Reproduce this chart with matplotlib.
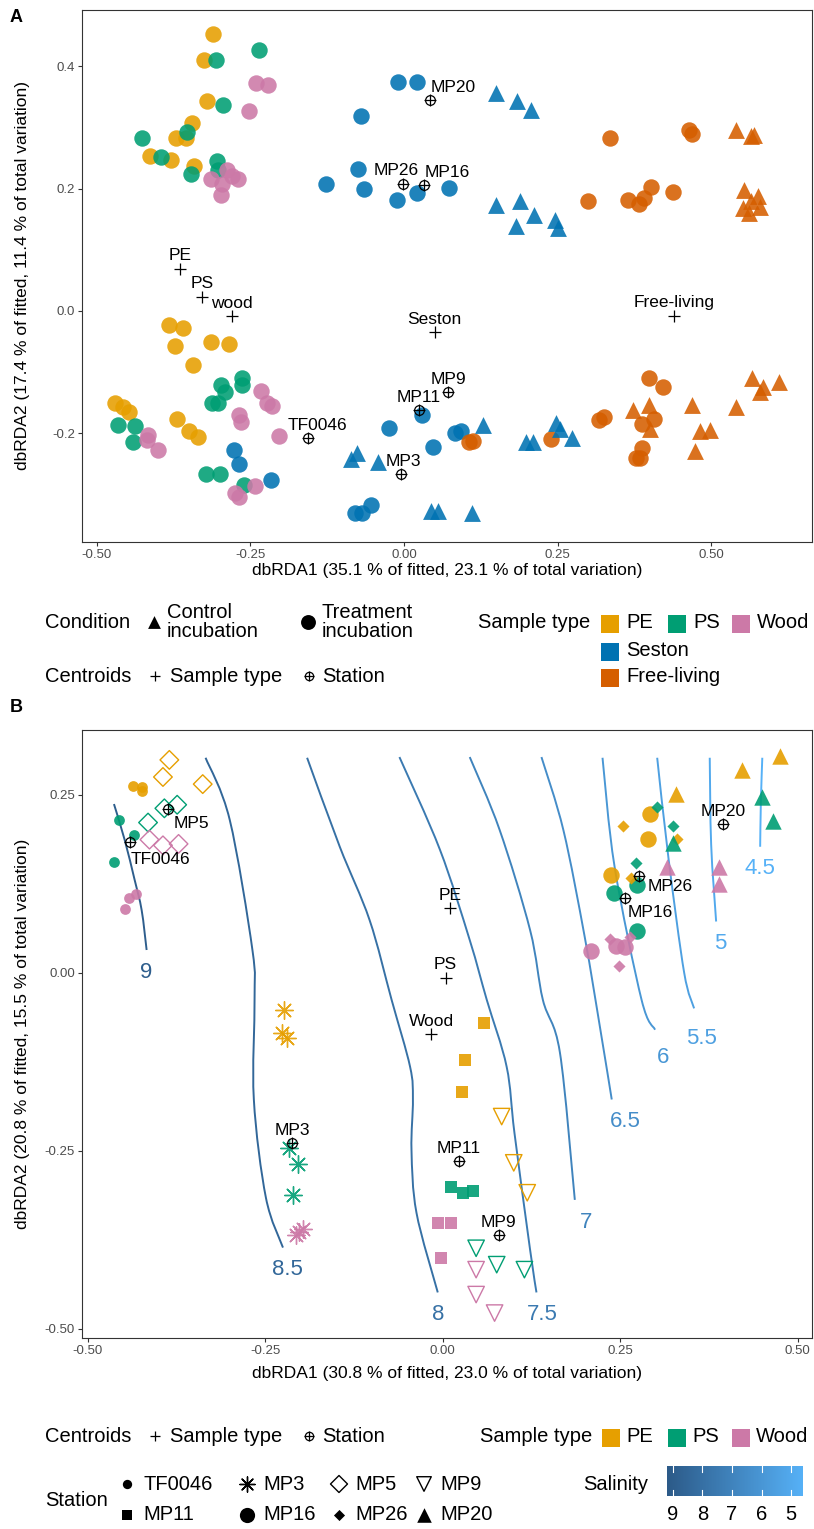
import numpy as np
import matplotlib
matplotlib.use("Agg")
import matplotlib.pyplot as plt
from matplotlib.colors import LinearSegmentedColormap, Normalize
from matplotlib.path import Path
from matplotlib.patches import PathPatch

plt.rcParams['font.family'] = ['Liberation Sans', 'DejaVu Sans']

W, H, DPI = 814, 1529, 100

# ---------------- colours ----------------
COL = {"PE": "#E69F00", "PS": "#009E73", "Wood": "#CC79A7",
       "Seston": "#0072B2", "Free-living": "#D55E00"}

# ---------------- panel A : all samples ----------------
pe_treat_x = [-0.310, -0.325, -0.321, -0.345, -0.371, -0.355, -0.414, -0.379, -0.341,
              -0.383, -0.359, -0.372, -0.314, -0.285, -0.344, -0.470, -0.458, -0.448, -0.369, -0.350, -0.336]
pe_treat_y = [0.453, 0.410, 0.344, 0.308, 0.282, 0.282, 0.254, 0.246, 0.237,
              -0.023, -0.028, -0.057, -0.051, -0.055, -0.089, -0.150, -0.158, -0.166, -0.177, -0.196, -0.206]
ps_treat_x = [-0.306, -0.236, -0.294, -0.353, -0.426, -0.396, -0.304, -0.302, -0.346,
              -0.297, -0.292, -0.263, -0.264, -0.313, -0.303, -0.465, -0.438, -0.441, -0.322, -0.299, -0.260]
ps_treat_y = [0.410, 0.426, 0.336, 0.292, 0.283, 0.251, 0.245, 0.231, 0.224,
              -0.121, -0.132, -0.109, -0.121, -0.151, -0.150, -0.186, -0.188, -0.215, -0.267, -0.267, -0.285]
wood_treat_x = [-0.241, -0.222, -0.252, -0.288, -0.314, -0.270, -0.296, -0.298, -0.280,
                -0.233, -0.223, -0.214, -0.268, -0.265, -0.203, -0.416, -0.419, -0.400, -0.275, -0.268, -0.243]
wood_treat_y = [0.372, 0.369, 0.327, 0.231, 0.216, 0.215, 0.208, 0.190, 0.221,
                -0.131, -0.150, -0.155, -0.170, -0.181, -0.204, -0.203, -0.212, -0.228, -0.298, -0.305, -0.286]
seston_treat_x = [-0.010, 0.021, -0.070, -0.075, -0.127, -0.065, -0.011, 0.021, 0.073,
                  -0.277, -0.268, -0.217, 0.030, -0.024, 0.048, 0.083, 0.093, -0.080, -0.068, -0.054]
seston_treat_y = [0.374, 0.375, 0.318, 0.232, 0.208, 0.200, 0.182, 0.193, 0.201,
                  -0.227, -0.251, -0.276, -0.171, -0.191, -0.223, -0.199, -0.196, -0.330, -0.330, -0.318]
seston_ctrl_x = [0.150, 0.184, 0.206, 0.150, 0.189, 0.211, 0.182, 0.246, 0.251,
                 -0.077, -0.087, -0.043, 0.128, 0.044, 0.056, 0.111, 0.198, 0.210, 0.247, 0.254, 0.274]
seston_ctrl_y = [0.356, 0.344, 0.328, 0.173, 0.179, 0.156, 0.139, 0.149, 0.135,
                 -0.233, -0.243, -0.247, -0.186, -0.327, -0.328, -0.331, -0.215, -0.214, -0.183, -0.193, -0.208]
free_treat_x = [0.336, 0.464, 0.468, 0.300, 0.365, 0.383, 0.390, 0.402, 0.438,
                0.105, 0.112, 0.240, 0.399, 0.421, 0.318, 0.325, 0.387, 0.407, 0.387, 0.378, 0.384]
free_treat_y = [0.282, 0.296, 0.289, 0.180, 0.182, 0.174, 0.184, 0.203, 0.194,
                -0.214, -0.213, -0.210, -0.110, -0.124, -0.179, -0.173, -0.185, -0.177, -0.225, -0.241, -0.241]
free_ctrl_x = [0.541, 0.564, 0.570, 0.553, 0.576, 0.564, 0.551, 0.579, 0.562,
               0.373, 0.399, 0.400, 0.469, 0.481, 0.498, 0.473, 0.540, 0.567, 0.584, 0.579, 0.610]
free_ctrl_y = [0.296, 0.286, 0.288, 0.198, 0.188, 0.179, 0.168, 0.170, 0.160,
               -0.162, -0.154, -0.193, -0.154, -0.197, -0.195, -0.230, -0.158, -0.110, -0.124, -0.132, -0.117]

a_type_names = ["PE", "PS", "wood", "Seston", "Free-living"]
a_type_cx = [-0.364, -0.329, -0.280, 0.050, 0.439]
a_type_cy = [0.069, 0.023, -0.009, -0.035, -0.008]
a_stn_names = ["MP20", "MP26", "MP16", "MP9", "MP11", "MP3", "TF0046"]
a_stn_cx = [0.043, -0.002, 0.033, 0.072, 0.024, -0.005, -0.157]
a_stn_cy = [0.345, 0.208, 0.206, -0.133, -0.162, -0.267, -0.208]

# ---------------- panel B : particle samples by station ----------------
stations = ["TF0046", "MP3", "MP5", "MP9", "MP11", "MP16", "MP26", "MP20"]
b_x = {
    "TF0046": {"PE": [-0.436, -0.423, -0.423], "PS": [-0.456, -0.435, -0.463], "Wood": [-0.442, -0.432, -0.447]},
    "MP3":    {"PE": [-0.224, -0.226, -0.220], "PS": [-0.216, -0.204, -0.211], "Wood": [-0.207, -0.203, -0.197]},
    "MP5":    {"PE": [-0.385, -0.394, -0.338], "PS": [-0.392, -0.374, -0.415], "Wood": [-0.413, -0.394, -0.372]},
    "MP9":    {"PE": [0.083, 0.100, 0.119], "PS": [0.047, 0.076, 0.115], "Wood": [0.047, 0.047, 0.073]},
    "MP11":   {"PE": [0.058, 0.031, 0.027], "PS": [0.012, 0.028, 0.043], "Wood": [-0.007, 0.011, -0.002]},
    "MP16":   {"PE": [0.292, 0.289, 0.237], "PS": [0.274, 0.241, 0.274], "Wood": [0.209, 0.244, 0.256]},
    "MP26":   {"PE": [0.254, 0.330, 0.265], "PS": [0.302, 0.324, 0.272], "Wood": [0.236, 0.264, 0.248]},
    "MP20":   {"PE": [0.475, 0.422, 0.329], "PS": [0.450, 0.465, 0.324], "Wood": [0.316, 0.389, 0.389]},
}
b_y = {
    "TF0046": {"PE": [0.262, 0.261, 0.256], "PS": [0.214, 0.194, 0.155], "Wood": [0.105, 0.110, 0.090]},
    "MP3":    {"PE": [-0.052, -0.085, -0.092], "PS": [-0.246, -0.268, -0.312], "Wood": [-0.368, -0.364, -0.360]},
    "MP5":    {"PE": [0.299, 0.275, 0.265], "PS": [0.231, 0.236, 0.211], "Wood": [0.187, 0.179, 0.181]},
    "MP9":    {"PE": [-0.202, -0.267, -0.309], "PS": [-0.387, -0.410, -0.417], "Wood": [-0.417, -0.452, -0.478]},
    "MP11":   {"PE": [-0.070, -0.122, -0.168], "PS": [-0.301, -0.309, -0.307], "Wood": [-0.352, -0.351, -0.401]},
    "MP16":   {"PE": [0.223, 0.188, 0.138], "PS": [0.123, 0.112, 0.059], "Wood": [0.031, 0.038, 0.036]},
    "MP26":   {"PE": [0.206, 0.188, 0.133], "PS": [0.233, 0.206, 0.154], "Wood": [0.047, 0.050, 0.009]},
    "MP20":   {"PE": [0.304, 0.285, 0.251], "PS": [0.247, 0.213, 0.182], "Wood": [0.148, 0.148, 0.124]},
}
b_type_names = ["PE", "PS", "Wood"]
b_type_cx = [0.010, 0.004, -0.016]
b_type_cy = [0.091, -0.007, -0.086]
b_stn_cx = [-0.440, -0.212, -0.387, 0.079, 0.023, 0.257, 0.277, 0.395]
b_stn_cy = [0.184, -0.239, 0.230, -0.369, -0.265, 0.105, 0.136, 0.209]

# salinity isolines (fitted surface)
sal_levels = [9, 8.5, 8, 7.5, 7, 6.5, 6, 5.5, 5, 4.5]
sal_x = [
    [-0.463, -0.448, -0.434, -0.424, -0.417],
    [-0.334, -0.300, -0.268, -0.265, -0.266, -0.249, -0.225],
    [-0.191, -0.145, -0.103, -0.072, -0.046, -0.042, -0.044, -0.037, -0.007],
    [-0.061, -0.004, 0.038, 0.062, 0.090, 0.101, 0.123, 0.132],
    [0.038, 0.080, 0.123, 0.141, 0.165, 0.186],
    [0.139, 0.170, 0.200, 0.222, 0.238],
    [0.225, 0.242, 0.280, 0.299],
    [0.302, 0.318, 0.340, 0.354],
    [0.376, 0.378, 0.385],
    [0.450, 0.448, 0.447],
]
sal_y = [
    [0.237, 0.187, 0.131, 0.088, 0.032],
    [0.302, 0.215, 0.032, -0.038, -0.178, -0.316, -0.386],
    [0.302, 0.177, 0.074, -0.038, -0.132, -0.178, -0.249, -0.337, -0.449],
    [0.303, 0.173, 0.046, -0.038, -0.132, -0.225, -0.389, -0.449],
    [0.303, 0.201, 0.060, -0.038, -0.112, -0.319],
    [0.303, 0.200, 0.050, -0.080, -0.178],
    [0.302, 0.149, -0.038, -0.080],
    [0.302, 0.160, 0.000, -0.050],
    [0.302, 0.180, 0.072],
    [0.302, 0.240, 0.177],
]

sal_cmap = LinearSegmentedColormap.from_list("sal", ["#56B1F7", "#2C5A88"])
sal_norm = Normalize(vmin=4.6, vmax=9.2)

fig = plt.figure(figsize=(W / DPI, H / DPI), dpi=DPI)


def px_axes(x0, y0, x1, y1):
    return fig.add_axes([x0 / W, 1 - y1 / H, (x1 - x0) / W, (y1 - y0) / H])


def style_axes(ax):
    for s in ax.spines.values():
        s.set_color("#333333")
        s.set_linewidth(0.8)
    ax.tick_params(colors="#333333", labelcolor="#4D4D4D", labelsize=9.5, length=3, width=0.8, pad=2)


def station_marker(ax, x, y, size=7):
    ax.plot(x, y, "o", ms=size, mfc="none", mec="black", mew=0.9, zorder=6)
    ax.plot(x, y, "+", ms=size + 1, mec="black", mew=0.9, zorder=6)


def smooth_path(xs, ys):
    """Cubic Bezier path passing through the given vertices (Catmull-Rom tangents)."""
    p = np.column_stack([xs, ys])
    n = len(p)
    verts = [p[0]]
    codes = [Path.MOVETO]
    for i in range(n - 1):
        p0 = p[max(i - 1, 0)]
        p1, p2 = p[i], p[i + 1]
        p3 = p[min(i + 2, n - 1)]
        verts += [p1 + (p2 - p0) / 6.0, p2 - (p3 - p1) / 6.0, p2]
        codes += [Path.CURVE4] * 3
    return Path(verts, codes)


LAB = 12.5
AXT = 12.5

# ================= panel A =================
axA = px_axes(82, 10, 812, 542)
style_axes(axA)
axA.set_xlim(-0.524, 0.664)
axA.set_ylim(-0.378, 0.492)
axA.set_xticks([-0.5, -0.25, 0, 0.25, 0.5])
axA.set_xticklabels(["-0.50", "-0.25", "0.00", "0.25", "0.50"])
axA.set_yticks([-0.2, 0.0, 0.2, 0.4])
axA.set_yticklabels(["-0.2", "0.0", "0.2", "0.4"])

SA = 140
for xs, ys, c in [(pe_treat_x, pe_treat_y, "PE"), (ps_treat_x, ps_treat_y, "PS"),
                  (wood_treat_x, wood_treat_y, "Wood"), (seston_treat_x, seston_treat_y, "Seston"),
                  (free_treat_x, free_treat_y, "Free-living")]:
    axA.scatter(xs, ys, s=SA, marker="o", color=COL[c], alpha=0.88, linewidths=0, zorder=3)
for xs, ys, c in [(seston_ctrl_x, seston_ctrl_y, "Seston"), (free_ctrl_x, free_ctrl_y, "Free-living")]:
    axA.scatter(xs, ys, s=SA * 1.05, marker="^", color=COL[c], alpha=0.88, linewidths=0, zorder=3)

for name, x, y in zip(a_type_names, a_type_cx, a_type_cy):
    axA.plot(x, y, "+", ms=8, mec="black", mew=0.9, zorder=6)
    axA.annotate(name, (x, y), xytext=(0, 6), textcoords="offset points",
                 ha="center", va="baseline", fontsize=LAB, zorder=7)

a_lab_off = {"MP20": (0, 6, "left"), "MP26": (-5, 6, "center"), "MP16": (0, 6, "left"),
             "MP9": (0, 6, "center"), "MP11": (0, 6, "center"), "MP3": (2, 6, "center"),
             "TF0046": (7, 6, "center")}
for name, x, y in zip(a_stn_names, a_stn_cx, a_stn_cy):
    station_marker(axA, x, y)
    dx, dy, ha = a_lab_off[name]
    axA.annotate(name, (x, y), xytext=(dx, dy), textcoords="offset points",
                 ha=ha, va="baseline", fontsize=LAB, zorder=7)

axA.set_xlabel("dbRDA1 (35.1 % of fitted, 23.1 % of total variation)", fontsize=AXT)
axA.set_ylabel("dbRDA2 (17.4 % of fitted, 11.4 % of total variation)", fontsize=AXT)
axA.xaxis.set_label_coords(0.5, (542 - 563) / 532)
axA.yaxis.set_label_coords((30 - 82) / 730, 0.5)

# ================= panel B =================
axB = px_axes(82, 730, 812, 1338)
style_axes(axB)
axB.set_xlim(-0.508, 0.520)
axB.set_ylim(-0.513, 0.341)
axB.set_xticks([-0.5, -0.25, 0, 0.25, 0.5])
axB.set_xticklabels(["-0.50", "-0.25", "0.00", "0.25", "0.50"])
axB.set_yticks([-0.5, -0.25, 0, 0.25])
axB.set_yticklabels(["-0.50", "-0.25", "0.00", "0.25"])

sal_lab_off = {9: (0, -16), 8.5: (3, -16), 8: (0, -16), 7.5: (4, -16), 7: (8, -16),
               6.5: (10, -16), 6: (6, -20), 5.5: (5, -22), 5: (3, -16), 4.5: (0, -16)}
for lev, xs, ys in zip(sal_levels, sal_x, sal_y):
    c = sal_cmap(sal_norm(lev))
    axB.add_patch(PathPatch(smooth_path(xs, ys), facecolor="none", edgecolor=c,
                            lw=1.4, zorder=2, capstyle="butt"))
    dx, dy = sal_lab_off[lev]
    axB.annotate(f"{lev:g}", (xs[-1], ys[-1]), xytext=(dx, dy), textcoords="offset points",
                 ha="center", va="center", fontsize=16, color=c, zorder=2)

# marker style per station: (marker, size, filled)
stn_style = {
    "TF0046": ("o", 60, True), "MP3": ((8, 2, 0), 160, True), "MP5": ("D", 90, False),
    "MP9": ("v", 140, False), "MP11": ("s", 80, True), "MP16": ("o", 140, True),
    "MP26": ("D", 38, True), "MP20": ("^", 140, True),
}
for st in stations:
    mk, sz, filled = stn_style[st]
    for t in b_type_names:
        c = COL[t]
        if mk == (8, 2, 0):
            axB.scatter(b_x[st][t], b_y[st][t], s=sz, marker=mk, color=c, linewidths=1.0,
                        alpha=0.9, zorder=3)
        elif filled:
            axB.scatter(b_x[st][t], b_y[st][t], s=sz, marker=mk, color=c, linewidths=0,
                        alpha=0.9, zorder=3)
        else:
            axB.scatter(b_x[st][t], b_y[st][t], s=sz, marker=mk, facecolors="none",
                        edgecolors=c, linewidths=1.0, zorder=3)

for name, x, y in zip(b_type_names, b_type_cx, b_type_cy):
    axB.plot(x, y, "+", ms=8, mec="black", mew=0.9, zorder=6)
    axB.annotate(name, (x, y), xytext=(0, 6), textcoords="offset points",
                 ha="center", va="baseline", fontsize=LAB, zorder=7)

b_lab_off = {"TF0046": (0, -16, "left"), "MP3": (0, 6, "center"), "MP5": (4, -14, "left"),
             "MP9": (0, 6, "center"), "MP11": (0, 6, "center"), "MP16": (2, -14, "left"),
             "MP26": (6, -11, "left"), "MP20": (0, 6, "center")}
for name, x, y in zip(stations, b_stn_cx, b_stn_cy):
    station_marker(axB, x, y)
    dx, dy, ha = b_lab_off[name]
    axB.annotate(name, (x, y), xytext=(dx, dy), textcoords="offset points",
                 ha=ha, va="baseline", fontsize=LAB, zorder=7)

axB.set_xlabel("dbRDA1 (30.8 % of fitted, 23.0 % of total variation)", fontsize=AXT)
axB.set_ylabel("dbRDA2 (20.8 % of fitted, 15.5 % of total variation)", fontsize=AXT)
axB.xaxis.set_label_coords(0.5, (1338 - 1366) / 608)
axB.yaxis.set_label_coords((30 - 82) / 730, 0.5)

# ================= panel letters and legends =================
lg = fig.add_axes([0, 0, 1, 1], zorder=10)
lg.set_xlim(0, W)
lg.set_ylim(H, 0)
lg.axis("off")
lg.patch.set_alpha(0)

lg.text(10, 18, "A", fontsize=13, fontweight="bold", va="center", ha="left")
lg.text(10, 708, "B", fontsize=13, fontweight="bold", va="center", ha="left")

LF = 14.5


def ltext(x, y, s, **kw):
    lg.text(x, y, s, fontsize=LF, va="center", ha="left", **kw)


def centroid_legend(y):
    ltext(45, y, "Centroids")
    lg.plot(155, y, "+", ms=7, mec="black", mew=0.9)
    ltext(170, y, "Sample type")
    lg.plot(309, y, "o", ms=6, mfc="none", mec="black", mew=0.9)
    lg.plot(309, y, "+", ms=7, mec="black", mew=0.9)
    ltext(322, y, "Station")


# legend A
ltext(45, 623, "Condition")
lg.scatter(154, 622, s=85, marker="^", color="black", linewidths=0)
ltext(167, 622, "Control\nincubation", linespacing=0.95)
lg.scatter(308, 622, s=115, marker="o", color="black", linewidths=0)
ltext(322, 622, "Treatment\nincubation", linespacing=0.95)
ltext(478, 622, "Sample type")
for x, n in zip([610, 677, 741], ["PE", "PS", "Wood"]):
    lg.scatter(x, 624, s=160, marker="s", color=COL[n], linewidths=0)
    ltext(x + 16, 623, n)
for yy, n in [(651, "Seston"), (677, "Free-living")]:
    lg.scatter(610, yy + 1, s=160, marker="s", color=COL[n], linewidths=0)
    ltext(626, yy, n)
centroid_legend(676)

# legend B
centroid_legend(1436)
ltext(480, 1437, "Sample type")
for x, n in zip([611, 677, 741], ["PE", "PS", "Wood"]):
    lg.scatter(x, 1438, s=160, marker="s", color=COL[n], linewidths=0)
    ltext(x + 15, 1437, n)

ltext(45, 1500, "Station")
row1 = [(127, "TF0046", "o", 45, True), (247, "MP3", (8, 2, 0), 120, True),
        (339, "MP5", "D", 75, False), (424, "MP9", "v", 110, False)]
row2 = [(127, "MP11", "s", 60, True), (247, "MP16", "o", 120, True),
        (339, "MP26", "D", 32, True), (424, "MP20", "^", 110, True)]
for yy, row in [(1484, row1), (1515, row2)]:
    for x, n, mk, sz, filled in row:
        if mk == (8, 2, 0):
            lg.scatter(x, yy, s=sz, marker=mk, color="black", linewidths=1.0)
        elif filled:
            lg.scatter(x, yy, s=sz, marker=mk, color="black", linewidths=0)
        else:
            lg.scatter(x, yy, s=sz, marker=mk, facecolors="none", edgecolors="black", linewidths=1.0)
        ltext(x + 16, yy, n)

ltext(583, 1484, "Salinity")
cb = px_axes(667, 1466, 803, 1496)
grad = np.linspace(4.6, 9.2, 256)[None, :]
cb.imshow(grad, cmap=sal_cmap, norm=sal_norm, aspect="auto", extent=[4.6, 9.2, 0, 1])
cb.set_xlim(9.2, 4.6)
cb.set_ylim(0, 1)
cb.set_xticks([])
cb.set_yticks([])
for s in cb.spines.values():
    s.set_visible(False)
for v in [9, 8, 7, 6, 5]:
    cb.plot([v, v], [0, 0.2], color="white", lw=0.8)
    cb.plot([v, v], [0.8, 1], color="white", lw=0.8)
    xpx = 667 + (9.2 - v) / (9.2 - 4.6) * 136
    lg.text(xpx, 1515, f"{v}", fontsize=LF, va="center", ha="center")

fig.savefig("out.png", dpi=DPI)
